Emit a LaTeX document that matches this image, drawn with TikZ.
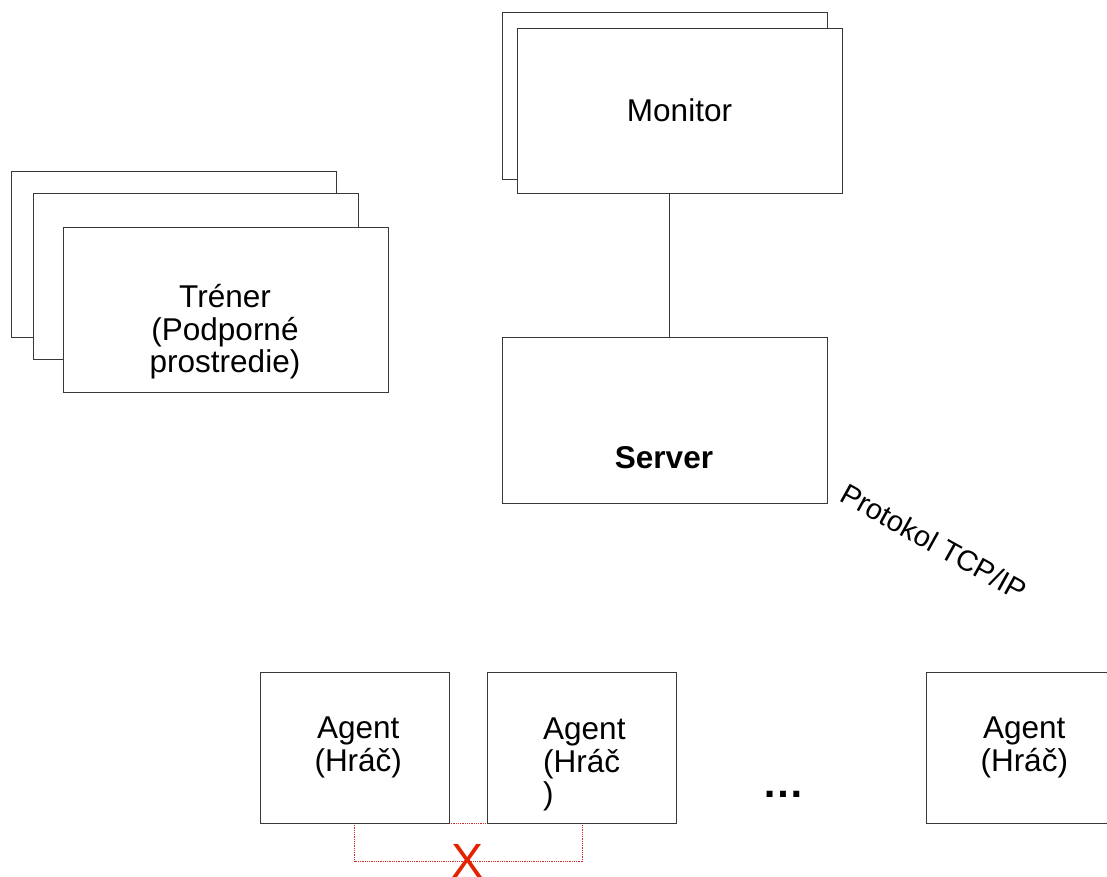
\documentclass[tikz,border=0pt]{standalone}
\usepackage{fontspec}
\setmainfont{Liberation Sans}
\definecolor{linegray}{gray}{0.22}
\definecolor{xred}{RGB}{225,35,0}
\definecolor{dotred}{RGB}{210,45,45}
\newcommand\lblsize{\fontsize{31.5}{32.5}\selectfont}
\begin{document}
\begin{tikzpicture}[x=1pt,y=-1pt,
  box/.style={draw=linegray, line width=0.9pt, fill=white, inner sep=0pt,
    outer sep=0pt, anchor=north west, minimum width=325pt, minimum height=166pt},
  agentbox/.style={box, minimum width=189.5pt, minimum height=151pt},
  lbl/.style={font=\lblsize, align=center, inner sep=0pt},
  wire/.style={draw=linegray, line width=0.9pt},
  nolink/.style={draw=dotred, line width=0.8pt, dash pattern=on 1pt off 0.8pt}]
\clip (0,0) rectangle (1107,877);
\useasboundingbox (0,0) rectangle (1107,877);

% forbidden direct link between two agents
\coordinate (xbase) at (468,861);
\draw[nolink] (260+94.5,823) coordinate (nl) rectangle (582,861);

% trainer stack
\node[box] (trainerC) at (11,171) {};
\node[box] (trainerB) at (33,193) {};
\node[box, minimum height=165pt] (trainer) at (63,227) {};
\node[lbl] (trainertext) at (225,332) {Tréner\\(Podporné\\prostredie)};

% monitor stack
\node[box, minimum height=167pt] (monitorB) at (502,12) {};
\node[box, minimum height=165pt, font=\lblsize] (monitor) at (517,28) {Monitor};

% server
\node[box] (server) at (502,337) {};
\node[lbl, font=\lblsize\bfseries, anchor=base] (servertext) at (664,468) {Server};
\draw[wire] ([xshift=-10.5pt]monitor.south) -- ([xshift=4.5pt]server.north);

% protocol label
\node[font=\fontsize{29}{29}\selectfont, anchor=base, rotate=-29, inner sep=0pt]
  (proto) at (929,551) {Protokol TCP/IP};

% agents
\node[agentbox] (agent1) at (260,672) {};
\node[agentbox] (agent2) at (487,672) {};
\node[agentbox] (agent3) at (926,672) {};
\node[lbl] (agent1text) at ([xshift=3.5pt]agent1.center) {Agent\\(Hráč)};
\node[lbl, align=left, anchor=west] (agent2text) at (543,764.5) {Agent\\(Hráč\\)};
\node[lbl] (agent3text) at ([xshift=3.5pt]agent3.center) {Agent\\(Hráč)};

\node[font=\fontsize{42}{42}\selectfont\bfseries, anchor=base, inner sep=0pt]
  (dots) at (783.5,797) {…};

\node[text=xred, font=\fontsize{48}{48}\selectfont, inner sep=0pt] (cross) at (xbase) {X};
\end{tikzpicture}
\end{document}
